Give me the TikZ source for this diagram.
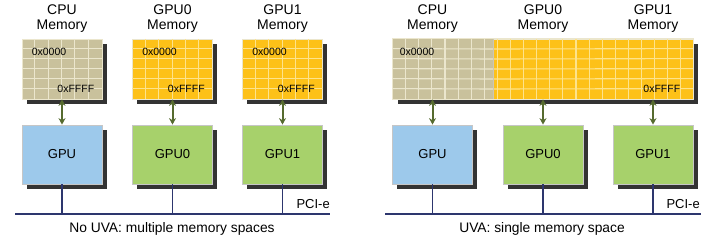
\documentclass[tikz,border=0pt]{standalone}
\usepackage{fontspec}
\setmainfont{Liberation Sans}
\usetikzlibrary{arrows.meta, positioning, calc}

\definecolor{cpuTan}{HTML}{C9C19C}
\definecolor{gpuGold}{HTML}{FDC118}
\definecolor{tanLine}{HTML}{EBE6CD}
\definecolor{goldLine}{HTML}{FDE38C}
\definecolor{hostBlue}{HTML}{9DC9EB}
\definecolor{devGreen}{HTML}{A7D16B}
\definecolor{arrowOlive}{HTML}{566B2F}
\definecolor{busNavy}{HTML}{2D366E}
\definecolor{shadowGray}{HTML}{333333}

\tikzset{
  memblock/.style={draw=tanLine, line width=0.8pt, minimum height=60pt, inner sep=0pt},
  chipbox/.style={draw=gray!45, line width=0.8pt, minimum width=80pt, minimum height=59pt,
    inner sep=0pt, font=\fontsize{13}{15}\selectfont},
  memlabel/.style={align=center, inner sep=0pt, font=\fontsize{14}{15}\selectfont},
  addr/.style={inner sep=0pt, font=\fontsize{10.5}{12}\selectfont},
  pcie/.style={inner sep=0pt, font=\fontsize{13}{15}\selectfont},
  caption/.style={inner sep=0pt, font=\fontsize{13.8}{16}\selectfont},
  memlink/.style={arrowOlive, line width=2pt, {Stealth[length=6.5pt,width=7pt]}-{Stealth[length=6.5pt,width=7pt]}},
  bus/.style={busNavy, line width=1.8pt},
  boxshadow/.style={fill=shadowGray, draw=none}
}

\begin{document}
\begin{tikzpicture}[x=1pt, y=-1pt]
  \useasboundingbox (0,0) rectangle (710,239);

  % box centres
  \coordinate (cpumemC)  at (62,69);
  \coordinate (gpu0memC) at (172.5,69);
  \coordinate (gpu1memC) at (282.5,69);
  \coordinate (uvamemC)  at (543,69);
  \coordinate (cpuC)   at (62,154.5);
  \coordinate (gpu0C)  at (172.5,154.5);
  \coordinate (gpu1C)  at (282.5,154.5);
  \coordinate (cpuBC)  at (432.5,154.5);
  \coordinate (gpu0BC) at (543,154.5);
  \coordinate (gpu1BC) at (653,154.5);

  % shadows first
  \foreach \n/\w/\h in {cpumemC/80/60, gpu0memC/80/60, gpu1memC/80/60, uvamemC/300/60,
                        cpuC/80/59, gpu0C/80/59, gpu1C/80/59, cpuBC/80/59, gpu0BC/80/59, gpu1BC/80/59}
    \fill[boxshadow] ($(\n)+(-\w/2+4.5,-\h/2+4.5)$) rectangle ($(\n)+(\w/2+4.5,\h/2+4.5)$);

  % ---- left: no UVA ----
  \node[memlabel] (cpumemlbl)  at (62,19)    {CPU\\Memory};
  \node[memlabel] (gpu0memlbl) at (172.5,19) {GPU0\\Memory};
  \node[memlabel] (gpu1memlbl) at (282.5,19) {GPU1\\Memory};

  \node[memblock, fill=cpuTan,  minimum width=80pt] (cpumem)  at (cpumemC)  {};
  \node[memblock, fill=gpuGold, minimum width=80pt] (gpu0mem) at (gpu0memC) {};
  \node[memblock, fill=gpuGold, minimum width=80pt] (gpu1mem) at (gpu1memC) {};

  \foreach \m/\c in {cpumem/tanLine, gpu0mem/goldLine, gpu1mem/goldLine}{
    \foreach \i in {1,...,5}{
      \draw[\c, line width=1.1pt] ($(\m.north west)+(\i*13.33,0)$) -- ($(\m.south west)+(\i*13.33,0)$);
      \draw[\c, line width=1.1pt] ($(\m.north west)+(0,\i*10)$) -- ($(\m.north east)+(0,\i*10)$);
    }
    \node[addr, anchor=west] at ($(\m.north west)+(10,13)$) {0x0000};
    \node[addr, anchor=east] at ($(\m.south east)+(-8,-11)$) {0xFFFF};
  }

  \node[chipbox, fill=hostBlue]  (cpu)  at (cpuC)  {GPU};
  \node[chipbox, fill=devGreen]  (gpu0) at (gpu0C) {GPU0};
  \node[chipbox, fill=devGreen]  (gpu1) at (gpu1C) {GPU1};

  \draw[memlink] (cpumem)  -- (cpu);
  \draw[memlink] (gpu0mem) -- (gpu0);
  \draw[memlink] (gpu1mem) -- (gpu1);

  \coordinate (busL) at (15,214);
  \coordinate (busR) at (330,214);
  \draw[bus] (busL) -- (busR);
  \foreach \g in {cpu,gpu0,gpu1}
    \draw[bus] (\g.south) -- (\g.south |- busL);
  \node[pcie, anchor=base east] (pcieA) at ($(busR)+(0,-6)$) {PCI-e};
  \node[caption] (capA) at (172,229) {No UVA: multiple memory spaces};

  % ---- right: UVA ----
  \node[memlabel] (cpumemlblB)  at (432.5,19) {CPU\\Memory};
  \node[memlabel] (gpu0memlblB) at (543,19)   {GPU0\\Memory};
  \node[memlabel] (gpu1memlblB) at (653,19)   {GPU1\\Memory};

  \node[memblock, fill=gpuGold, minimum width=300pt] (uvamem) at (uvamemC) {};
  \coordinate (split) at (493,39);
  \fill[cpuTan] ($(uvamem.north west)+(0.4,0.4)$) rectangle ($(split |- uvamem.south)+(0,-0.4)$);
  \foreach \i in {1,...,7}
    \draw[tanLine, line width=1.1pt] ($(uvamem.north west)+(\i*13.1,0)$) -- ($(uvamem.south west)+(\i*13.1,0)$);
  \foreach \i in {8,...,22}
    \draw[goldLine, line width=1.1pt] ($(uvamem.north west)+(\i*13.1,0)$) -- ($(uvamem.south west)+(\i*13.1,0)$);
  \foreach \j in {1,...,5}{
    \draw[tanLine, line width=1.1pt] ($(uvamem.north west)+(0,\j*10)$) -- ($(split)+(0,\j*10)$);
    \draw[goldLine, line width=1.1pt] ($(split)+(0,\j*10)$) -- ($(uvamem.north east)+(0,\j*10)$);
  }
  \draw[tanLine!70!gray, line width=0.8pt] (split) -- (split |- uvamem.south);
  \draw[tanLine, line width=0.8pt] (uvamem.north west) rectangle (uvamem.south east);
  \node[addr, anchor=west] at ($(uvamem.north west)+(7,13)$) {0x0000};
  \node[addr, anchor=east] at ($(uvamem.south east)+(-13,-11)$) {0xFFFF};

  \node[chipbox, fill=hostBlue]  (cpuB)  at (cpuBC)  {GPU};
  \node[chipbox, fill=devGreen]  (gpu0B) at (gpu0BC) {GPU0};
  \node[chipbox, fill=devGreen]  (gpu1B) at (gpu1BC) {GPU1};

  \foreach \g in {cpuB,gpu0B,gpu1B}
    \draw[memlink] (\g.north |- uvamem.south) -- (\g.north);

  \coordinate (busLB) at (385,214);
  \coordinate (busRB) at (701,214);
  \draw[bus] (busLB) -- (busRB);
  \foreach \g in {cpuB,gpu0B,gpu1B}
    \draw[bus] (\g.south) -- (\g.south |- busLB);
  \node[pcie, anchor=base east] (pcieB) at ($(busRB)+(-1,-6)$) {PCI-e};
  \node[caption] (capB) at (542,229) {UVA: single memory space};
\end{tikzpicture}
\end{document}
